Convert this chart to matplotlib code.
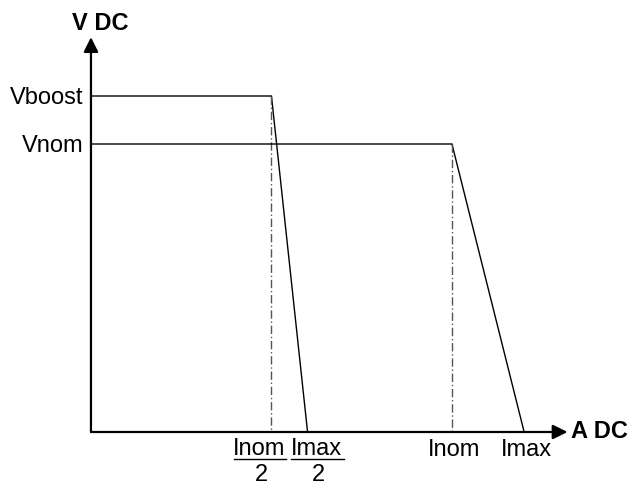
import matplotlib.pyplot as plt

plt.rcParams['font.family'] = ['Liberation Sans', 'DejaVu Sans']

# Operating levels (arbitrary units)
v_levels = {'Vboost': 28.0, 'Vnom': 24.0}
i_nom = 10.0
i_max = 12.0
# current limits for each mode: boost mode uses half the current
knee_x = [i_nom / 2, i_nom]
end_x = [i_max / 2, i_max]
level_y = [v_levels['Vboost'], v_levels['Vnom']]

fig = plt.figure(figsize=(6.31, 4.88), dpi=100)
ax = fig.add_axes([0, 0, 1, 1])
ax.set_xlim(-2.52, 14.96)
ax.set_ylim(-4.667, 36)
ax.axis('off')

# axes with arrows
ax.annotate('', xy=(13.2, 0), xytext=(0, 0),
            arrowprops=dict(arrowstyle='-|>', lw=1.6, color='black',
                            mutation_scale=22, shrinkA=0, shrinkB=0))
ax.annotate('', xy=(0, 32.9), xytext=(0, 0),
            arrowprops=dict(arrowstyle='-|>', lw=1.6, color='black',
                            mutation_scale=22, shrinkA=0, shrinkB=0))

# characteristic curves
for kx, ex, vy in zip(knee_x, end_x, level_y):
    ax.plot([0, kx, ex], [vy, vy, 0], color='black', lw=1.0,
            solid_joinstyle='miter')
    ax.plot([kx, kx], [vy, 0], color='#555555', lw=1.0,
            linestyle=(0, (6, 2, 1, 2)))

fs = 17
ax.text(0.25, 33.5, 'V DC', fontsize=fs, fontweight='bold',
        ha='center', va='baseline')
ax.text(13.3, 0, 'A DC', fontsize=fs, fontweight='bold',
        ha='left', va='center')
for name, vy in v_levels.items():
    ax.text(-0.22, vy - 0.65, name, fontsize=fs, ha='right', va='baseline')

# tick labels on the current axis
ax.text(i_nom + 0.05, -2.0, 'Inom', fontsize=fs, ha='center', va='baseline')
ax.text(i_max + 0.05, -2.0, 'Imax', fontsize=fs, ha='center', va='baseline')
# half values shown as fractions, nudged apart so they don't collide
for lbl, x in [('Inom', i_nom / 2 - 0.35), ('Imax', i_max / 2 + 0.25)]:
    ax.text(x, -1.92, lbl, fontsize=fs, ha='center', va='baseline')
    ax.plot([x - 0.7, x + 0.75], [-2.25, -2.25], color='black', lw=1.0)
    ax.text(x + 0.06, -4.1, '2', fontsize=fs, ha='center', va='baseline')

fig.savefig('out.png', dpi=100)
